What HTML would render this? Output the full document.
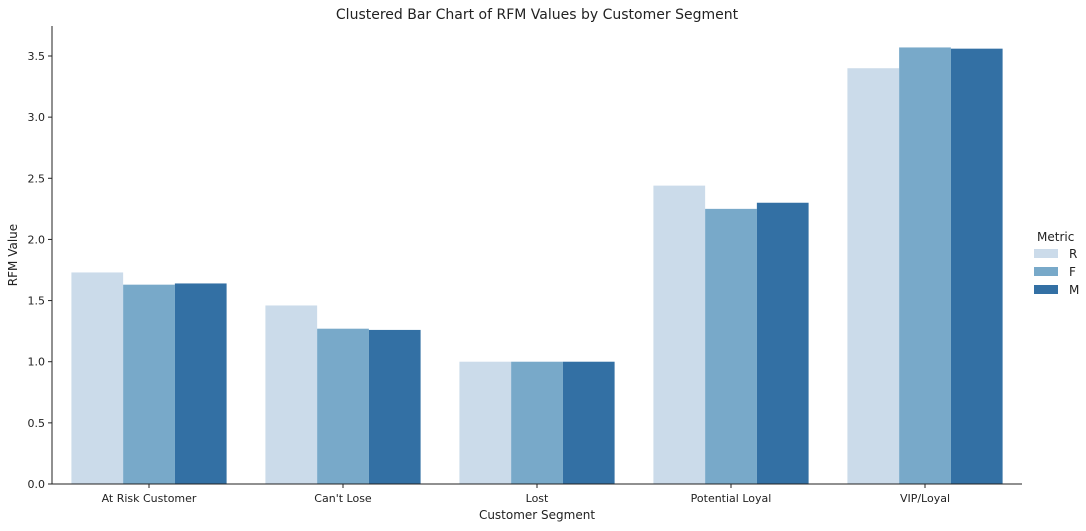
<!DOCTYPE html>
<html><head><meta charset="utf-8"><style>
body{margin:0;background:#fff;font-family:"DejaVu Sans",sans-serif;}
svg text{font-family:"DejaVu Sans",sans-serif;fill:#222;}
</style></head><body>
<svg id="chart" width="1086" height="527"></svg>
<script>
const categories = ["At Risk Customer","Can't Lose","Lost","Potential Loyal","VIP/Loyal"];
const metrics = ["R","F","M"];
const seriesR = [1.73,1.46,1.00,2.44,3.40];
const seriesF = [1.63,1.27,1.00,2.25,3.57];
const seriesM = [1.64,1.26,1.00,2.30,3.56];
const yTicks = [0,0.5,1.0,1.5,2.0,2.5,3.0,3.5];
const yTickLabels = ["0.0","0.5","1.0","1.5","2.0","2.5","3.0","3.5"];

const colors = ["#cbdbea","#78a9c9","#3370a4"];
const svg = document.getElementById('chart');
const NS = "http://www.w3.org/2000/svg";
const X0 = 52, X1 = 1022, Y0 = 484, YT = 26;
const yScale = v => Y0 - v * (484 - 56) / 3.5;
const groupW = (X1 - X0) / categories.length;
const xGroup = i => X0 + groupW * i;
function mk(tag, attrs){const e=document.createElementNS(NS,tag);for(const k in attrs)e.setAttribute(k,attrs[k]);svg.appendChild(e);return e;}

const series = [seriesR, seriesF, seriesM];
const barW = groupW * 0.8 / 3;
series.forEach((s, si) => {
  s.forEach((v, i) => {
    const x = xGroup(i) + groupW * 0.1 + si * barW;
    const r = mk('rect', {x: x, y: yScale(v), width: barW, height: Y0 - yScale(v), fill: colors[si]});
    
    
  });
});

const ax1 = mk('line',{x1:X0,y1:YT,x2:X0,y2:Y0,stroke:'#222','stroke-width':1});


const ax2 = mk('line',{x1:X0,y1:Y0,x2:X1,y2:Y0,stroke:'#222','stroke-width':1});



yTicks.forEach((t, i) => {
  const y = yScale(t);
  mk('line',{x1:X0-4,y1:y,x2:X0,y2:y,stroke:'#222'});
  const tx = mk('text',{x:X0-7,y:y+4,'font-size':11,'text-anchor':'end'});
  tx.textContent = yTickLabels[i];
  
  
});
categories.forEach((c, i) => {
  const x = xGroup(i) + groupW / 2;
  mk('line',{x1:x,y1:Y0,x2:x,y2:Y0+4,stroke:'#222'});
  const tx = mk('text',{x:x,y:Y0+18,'font-size':11,'text-anchor':'middle'});
  tx.textContent = c;
  
  
});

const title = mk('text',{x:537,y:19,'font-size':14,'text-anchor':'middle'});
title.textContent = 'Clustered Bar Chart of RFM Values by Customer Segment';


const xt = mk('text',{x:537,y:519,'font-size':12,'text-anchor':'middle'});
xt.textContent = 'Customer Segment';


const yt = mk('text',{x:17,y:255,'font-size':12,'text-anchor':'middle',transform:'rotate(-90 17 255)'});
yt.textContent = 'RFM Value';



const lt = mk('text',{x:1037,y:241,'font-size':12});
lt.textContent = 'Metric';


metrics.forEach((m, i) => {
  const y = 249 + i * 18;
  const r = mk('rect',{x:1034,y:y,width:24,height:9,fill:colors[i]});
  
  
  const t = mk('text',{x:1069,y:y+9,'font-size':12});
  t.textContent = m;
  
  
});
</script>
</body></html>
